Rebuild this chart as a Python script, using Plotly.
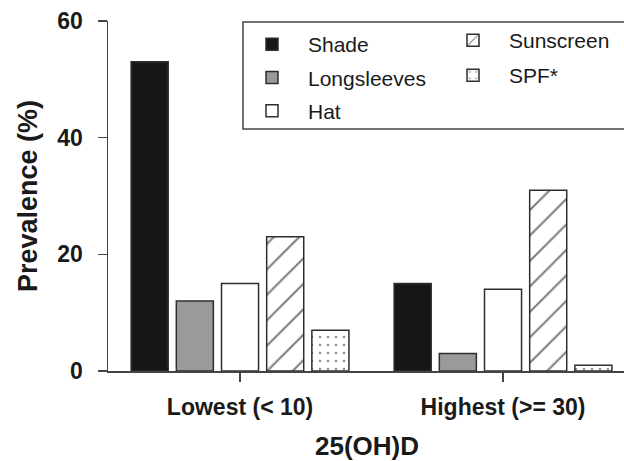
import plotly.graph_objects as go

# ---- data ----
categories = ["Lowest (< 10)", "Highest (>= 30)"]
tick_labels = ["Lowest (&lt; 10)", "Highest (&gt;= 30)"]
shade = [53, 15]
longsleeves = [12, 3]
hat = [15, 14]
sunscreen = [23, 31]
spf = [7, 1]
y_ticks = [0, 20, 40, 60]

FONT = "Liberation Sans, Arial, Helvetica, sans-serif"
EDGE = "#2e2e2e"
AX = "#444444"

series = [
    ("Shade", shade, dict(color="#161616"), "legend"),
    ("Longsleeves", longsleeves, dict(color="#9a9a9a"), "legend"),
    ("Hat", hat, dict(color="white"), "legend"),
    ("Sunscreen", sunscreen, dict(color="white",
                                  pattern=dict(shape="/", fgcolor="#000000", bgcolor="white",
                                               size=18, solidity=0.12, fillmode="overlay")), "legend2"),
    ("SPF*", spf, dict(color="white",
                       pattern=dict(shape=".", fgcolor="#222222", bgcolor="white",
                                    size=8, solidity=0.08, fillmode="overlay")), "legend2"),
]

fig = go.Figure()
for name, vals, mk, lg in series:
    mk = dict(mk)
    mk["line"] = dict(color=EDGE, width=1.5)
    fig.add_trace(go.Bar(
        x=categories, y=vals, name=name, marker=mk,
        legend=lg, legendgroup=name,
    ))

# plot area: x 108..624 px, y 21..371 px
W, H = 624, 461
L, R, T, B = 108, 0, 21, 90
pw = W - L - R
ph = H - T - B

def px_x(px):
    return (px - L) / pw

def px_y(py):
    return (H - B - py) / ph

fig.update_layout(
    width=W, height=H,
    margin=dict(l=L, r=R, t=T, b=B, pad=0),
    paper_bgcolor="white", plot_bgcolor="white",
    barmode="group", bargap=0.141, bargroupgap=0.18,
    font=dict(family=FONT, color="#1a1a1a"),
    showlegend=True,
    legend=dict(x=px_x(236), y=px_y(24), xanchor="left", yanchor="top",
                orientation="v", bgcolor="rgba(0,0,0,0)", borderwidth=0,
                itemwidth=62, tracegroupgap=3,
                font=dict(family=FONT, size=21, color="#1a1a1a")),
    legend2=dict(x=px_x(437), y=px_y(20), xanchor="left", yanchor="top",
                 orientation="v", bgcolor="rgba(0,0,0,0)", borderwidth=0,
                 itemwidth=62, tracegroupgap=4.7,
                 font=dict(family=FONT, size=21, color="#1a1a1a")),
    xaxis=dict(
        type="category", range=[-0.502, 1.46],
        tickvals=categories, ticktext=tick_labels,
        showline=True, linecolor=AX, linewidth=1.5,
        ticks="outside", ticklen=9, tickwidth=1.5, tickcolor=AX,
        tickfont=dict(family=FONT, size=23, color="#1a1a1a", weight="bold"),
        ticklabelstandoff=6,
        showgrid=False, zeroline=False, fixedrange=True,
    ),
    yaxis=dict(
        range=[0, 60], tickvals=y_ticks,
        showline=True, linecolor=AX, linewidth=1.5,
        ticks="outside", ticklen=9, tickwidth=1.5, tickcolor=AX,
        tickfont=dict(family=FONT, size=23, color="#1a1a1a", weight="bold"),
        ticklabelstandoff=10,
        showgrid=False, zeroline=False, fixedrange=True,
    ),
    shapes=[dict(type="rect", xref="paper", yref="paper",
                 x0=px_x(243), x1=1.03, y0=px_y(129), y1=px_y(22),
                 line=dict(color=AX, width=1.5), fillcolor="rgba(0,0,0,0)", layer="above")],
    annotations=[
        dict(text="<b>Prevalence (%)</b>", xref="paper", yref="paper",
             x=px_x(28), y=0.5, xanchor="center", yanchor="middle", textangle=-90,
             showarrow=False, font=dict(family=FONT, size=27, color="#1a1a1a")),
        dict(text="<b>25(OH)D</b>", xref="paper", yref="paper",
             x=px_x(367), y=px_y(446), xanchor="center", yanchor="middle",
             showarrow=False, font=dict(family=FONT, size=26, color="#1a1a1a")),
    ],
)

fig.write_html("out.html",
               config={"displayModeBar": False, "staticPlot": True},
               post_script="document.body.style.margin='0';document.body.style.overflow='hidden';")
